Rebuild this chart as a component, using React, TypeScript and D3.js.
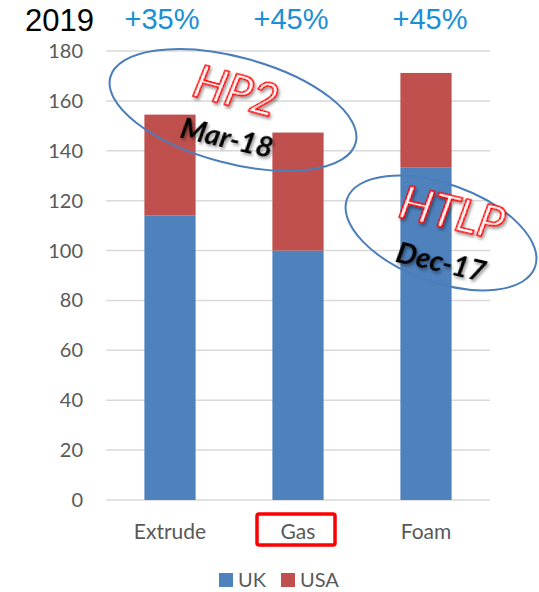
import React from 'react';
import * as d3 from 'd3';

// chart data
const categories = ['Extrude', 'Gas', 'Foam'];
const ukValues = [114, 100, 133.2];
const usaValues = [40.5, 47.3, 38];
const yTicks = [0, 20, 40, 60, 80, 100, 120, 140, 160, 180];
const growthLabels = ['+35%', '+45%', '+45%'];
const growthOffsets = [-8, -7, 4];
const seriesNames = ['UK', 'USA'];
const seriesColors = ['#4f81bd', '#c0504d'];

const W = 539;
const H = 592;
const labelFont = 'Lato, "Open Sans", sans-serif';

const App: React.FC = () => {
    const x = d3.scaleBand<string>()
        .domain(categories)
        .range([106, 490])
        .paddingInner(0.6)
        .paddingOuter(0.3);

    const y = d3.scaleLinear().domain([0, 180]).range([500, 51]);

    const rows = categories.map((c, i) => ({ cat: c, UK: ukValues[i], USA: usaValues[i] }));
    const stacked = d3.stack<any>().keys(seriesNames)(rows);

    const cx = (c: string) => (x(c) ?? 0) + x.bandwidth() / 2;

    return (
        <svg width={W} height={H} style={{ position: 'absolute', left: 0, top: 0 }}>
            <defs>
                <filter id="shadow" x="-20%" y="-20%" width="140%" height="140%">
                    <feDropShadow dx="2" dy="2" stdDeviation="1.5" floodColor="#000" floodOpacity="0.4" />
                </filter>
            </defs>

            {/* gridlines */}
            {yTicks.map(t => (
                <line key={t} x1={106} x2={490} y1={y(t)} y2={y(t)}
                    stroke="#d9d9d9" strokeWidth={1.5} />
            ))}

            {/* y labels */}
            {yTicks.map(t => (
                <text key={'l' + t} x={83} y={y(t)} dy="0.35em" textAnchor="end"
                    fontFamily={labelFont} fontSize={20} fill="#595959">{t}</text>
            ))}

            {/* stacked bars */}
            {stacked.map((s, si) => (
                <g key={s.key} fill={seriesColors[si]}>
                    {s.map((d, i) => (
                        <rect key={i} x={x(categories[i])} width={x.bandwidth()}
                            y={y(d[1])} height={y(d[0]) - y(d[1])} />
                    ))}
                </g>
            ))}

            {/* category labels */}
            {categories.map(c => (
                <text key={c} x={cx(c)} y={539} textAnchor="middle"
                    fontFamily={labelFont} fontSize={21} fill="#595959">{c}</text>
            ))}

            {/* highlight box around Gas */}
            <rect x={cx('Gas') - 41} y={514} width={78} height={31} rx={2}
                fill="none" stroke="#ff0000" strokeWidth={3.5} />

            {/* header */}
            <text x={25} y={31} fontFamily='"Liberation Sans", Arial, sans-serif' fontSize={31} fill="#000">2019</text>
            {categories.map((c, i) => (
                <text key={'g' + c} x={cx(c) + growthOffsets[i]} y={29} textAnchor="middle"
                    fontFamily='"Liberation Sans", Arial, sans-serif' fontSize={29} fill="#1b8fd6">
                    {growthLabels[i]}
                </text>
            ))}

            {/* annotation: HP2 */}
            <ellipse cx={233} cy={110} rx={127} ry={53} transform="rotate(15 233 110)"
                fill="none" stroke="#4a7ebb" strokeWidth={2} />
            <text x={236} y={91} dy="0.35em" textAnchor="middle" transform="rotate(15 236 91)"
                fontFamily={labelFont} fontStyle="italic" fontSize={46} fill="#fff"
                stroke="#ff0000" strokeWidth={1.6} filter="url(#shadow)">HP2</text>
            <text x={227} y={138} dy="0.35em" textAnchor="middle" transform="rotate(13 227 138)"
                fontFamily={labelFont} fontStyle="italic" fontWeight="bold" fontSize={29} fill="#000"
                filter="url(#shadow)">Mar-18</text>

            {/* annotation: HTLP */}
            <ellipse cx={441} cy={233} rx={100} ry={49} transform="rotate(20 441 233)"
                fill="none" stroke="#4a7ebb" strokeWidth={2} />
            <text x={452} y={213} dy="0.35em" textAnchor="middle" transform="rotate(13 452 213)"
                fontFamily={labelFont} fontStyle="italic" fontSize={46} fill="#fff"
                stroke="#ff0000" strokeWidth={1.6} filter="url(#shadow)">HTLP</text>
            <text x={441} y={262} dy="0.35em" textAnchor="middle" transform="rotate(13 441 262)"
                fontFamily={labelFont} fontStyle="italic" fontWeight="bold" fontSize={29} fill="#000"
                filter="url(#shadow)">Dec-17</text>

            {/* legend */}
            {seriesNames.map((n, i) => {
                const lx = [219, 281][i];
                return (
                    <g key={n}>
                        <rect x={lx} y={573} width={14} height={14} fill={seriesColors[i]} />
                        <text x={lx + 19} y={587} fontFamily={labelFont} fontSize={20} fill="#595959">{n}</text>
                    </g>
                );
            })}
        </svg>
    );
};

export default App;
